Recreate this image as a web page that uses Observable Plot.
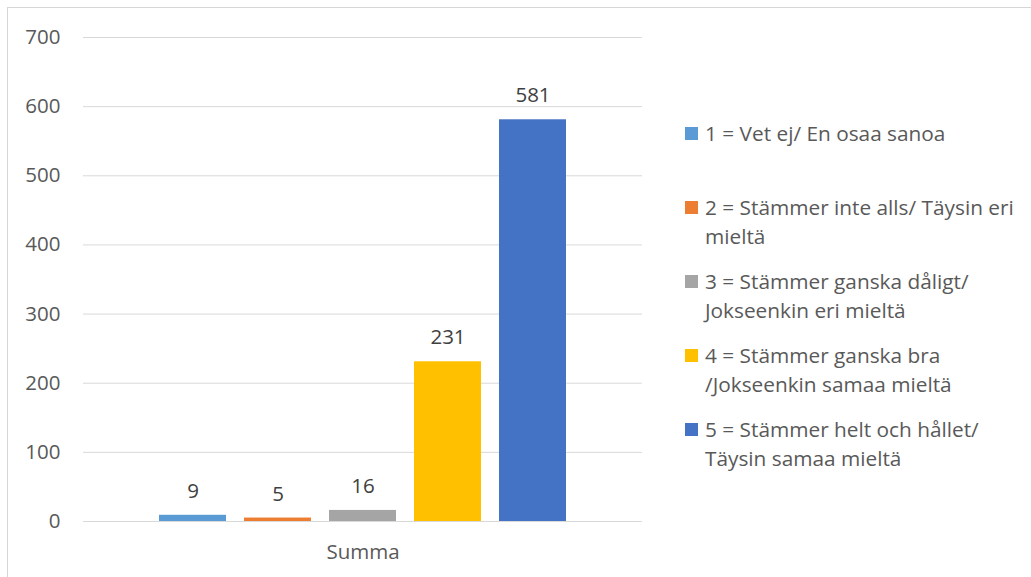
<!DOCTYPE html>
<html>
<head>
<meta charset="utf-8">
<script src="https://cdn.jsdelivr.net/npm/d3@7"></script>
<script src="https://cdn.jsdelivr.net/npm/@observablehq/plot@0.6"></script>
<style>
  html, body { margin: 0; padding: 0; background: #fff; }
  #wrap { position: relative; width: 1031px; height: 577px; overflow: hidden; font-family: "Open Sans", sans-serif; }
  #frame { position: absolute; left: 7px; top: 7px; width: 1100px; height: 700px; border-left: 1px solid #d6d6d6; border-top: 1px solid #d6d6d6; }
  #chart { position: absolute; left: 0; top: 0; }
  #chart svg text { font-size: 20.5px; }
  .lg { position: absolute; left: 685px; font-size: 20.8px; line-height: 29px; color: #595959; white-space: pre-line; }
  .lg .sw { position: absolute; left: 0; top: 8px; width: 13px; height: 13px; }
  .lg .tx { position: absolute; left: 20px; top: 0; width: 360px; }
</style>
</head>
<body>
<div id="wrap">
  <div id="frame"></div>
  <div id="chart"></div>
  <div id="legend"></div>
</div>
<script>
const group = "Summa";
const categories = [
  "1 = Vet ej/ En osaa sanoa",
  "2 = Stämmer inte alls/ Täysin eri\nmieltä",
  "3 = Stämmer ganska dåligt/\nJokseenkin eri mieltä",
  "4 = Stämmer ganska bra\n/Jokseenkin samaa mieltä",
  "5 = Stämmer helt och hållet/\nTäysin samaa mieltä"
];
const values = [9, 5, 16, 231, 581];
const colors = ["#5b9bd5", "#ed7d31", "#a5a5a5", "#ffc000", "#4472c4"];
const yTicks = [0, 100, 200, 300, 400, 500, 600, 700];

const data = categories.map((c, i) => ({group, cat: c, value: values[i]}));

const chart = Plot.plot({
  width: 1031,
  height: 577,
  marginTop: 37,
  marginBottom: 56,
  marginLeft: 83,
  marginRight: 389,
  style: {fontFamily: "Open Sans, sans-serif", fontSize: "20.5px", color: "#595959", background: "transparent"},
  y: {domain: [0, 700], label: null},
  fx: {domain: [group], label: null, padding: 0},
  x: {domain: categories, axis: null, paddingInner: 18 / 86, paddingOuter: 0.88},
  color: {domain: categories, range: colors},
  marks: [
    Plot.gridY(yTicks, {stroke: "#d9d9d9", strokeOpacity: 1, strokeWidth: 1}),
    Plot.axisY(yTicks, {tickSize: 0, tickPadding: 23, fontSize: 20.5, fill: "#595959", label: null}),
    Plot.axisFx({anchor: "bottom", tickSize: 0, tickPadding: 23, fontSize: 20.5, fill: "#595959", label: null}),
    Plot.barY(data, {fx: "group", x: "cat", y: "value", fill: "cat"}),
    Plot.text(data, {fx: "group", x: "cat", y: "value", text: d => String(d.value), dy: -24, fill: "#404040", fontSize: 20.5})
  ]
});
document.getElementById("chart").appendChild(chart);

const legendCenters = [133, 207, 281, 355, 429];
const lg = document.getElementById("legend");
categories.forEach((c, i) => {
  const item = document.createElement("div");
  item.className = "lg";
  item.style.top = (legendCenters[i] - 14.5) + "px";
  const sw = document.createElement("div");
  sw.className = "sw";
  sw.style.background = colors[i];
  const tx = document.createElement("div");
  tx.className = "tx";
  tx.textContent = c;
  item.appendChild(sw);
  item.appendChild(tx);
  lg.appendChild(item);
});
</script>
</body>
</html>
